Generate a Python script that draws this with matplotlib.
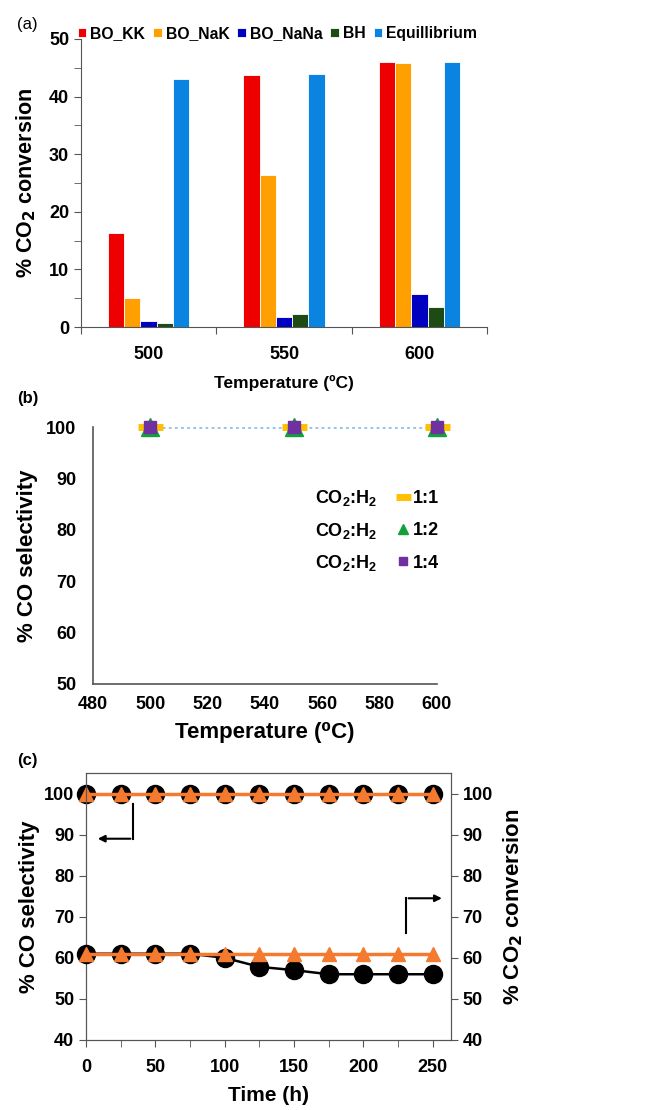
import numpy as np
import matplotlib
matplotlib.use('Agg')
import matplotlib.pyplot as plt
from matplotlib import font_manager
from matplotlib.ticker import MultipleLocator, FixedLocator, NullFormatter

plt.rcParams['font.family'] = ['Liberation Sans', 'DejaVu Sans']
plt.rcParams['font.weight'] = 'bold'

installed = {f.name for f in font_manager.fontManager.ttflist}
if 'Liberation Sans Narrow' in installed:
    NARROW = ['Liberation Sans Narrow', 'Liberation Sans', 'DejaVu Sans']
    TICK_SIZE = 15.5
else:
    NARROW = ['Liberation Sans', 'DejaVu Sans']
    TICK_SIZE = 13

# (a) CO2 conversion per catalyst
temps_a = ['500', '550', '600']
series_a = ['BO_KK', 'BO_NaK', 'BO_NaNa', 'BH', 'Equillibrium']
bo_kk = [16.4, 43.8, 46.0]
bo_nak = [5.0, 26.4, 45.8]
bo_nana = [1.1, 1.8, 5.8]
bh = [0.7, 2.3, 3.4]
equil = [43.1, 44.0, 46.0]
colors_a = ['#EE0000', '#FFA000', '#0000C0', '#1E4A14', '#0A84E0']

# (b) CO selectivity vs temperature for feed ratios
temps_b = [500, 550, 600]
sel_11 = [100, 100, 100]
sel_12 = [100, 100, 100]
sel_14 = [100, 100, 100]
ratios = ['1:1', '1:2', '1:4']

# (c) stability run
time_h = [0, 25, 50, 75, 100, 125, 150, 175, 200, 225, 250]
sel_black = [100, 100, 100, 100, 100, 100, 100, 100, 100, 100, 100]
sel_orange = [100, 100, 100, 100, 100, 100, 100, 100, 100, 100, 100]
conv_black = [61, 61, 61, 61, 60, 57.8, 57, 56, 56, 56, 56]
conv_orange = [61, 61, 61, 61, 61, 61, 61, 61, 61, 61, 61]

fig = plt.figure(figsize=(6.47, 11.1), dpi=100)
spine_c = '#555555'
orange_c = '#F47A30'


def narrow_ticks(ax, size):
    for lab in ax.get_xticklabels(which='both') + ax.get_yticklabels(which='both'):
        lab.set_family(NARROW)
        lab.set_fontsize(size)
        lab.set_fontweight('bold')


# ---------------- (a) ----------------
ax1 = fig.add_axes([0.125, 0.7054, 0.628, 0.2595])
x = np.arange(len(temps_a))
w = 0.12
for i, (vals, name) in enumerate(zip([bo_kk, bo_nak, bo_nana, bh, equil], series_a)):
    ax1.bar(x + (i - 2) * w, vals, width=w, color=colors_a[i], edgecolor='white',
            linewidth=0.6, label=name, zorder=2)
ax1.set_xlim(-0.5, 2.5)
ax1.set_ylim(0, 50)
ax1.xaxis.set_major_locator(FixedLocator([-0.5, 0.5, 1.5, 2.5]))
ax1.xaxis.set_major_formatter(NullFormatter())
ax1.xaxis.set_minor_locator(FixedLocator(x))
ax1.set_xticklabels(temps_a, minor=True)
ax1.tick_params(axis='x', which='minor', length=0, pad=14)
ax1.tick_params(axis='x', which='major', length=5, direction='out', color=spine_c)
ax1.yaxis.set_major_locator(MultipleLocator(10))
ax1.yaxis.set_minor_locator(MultipleLocator(5))
ax1.tick_params(axis='y', which='both', length=5, direction='out', color=spine_c)
for s in ['top', 'right']:
    ax1.spines[s].set_visible(False)
for s in ['left', 'bottom']:
    ax1.spines[s].set_color(spine_c)
narrow_ticks(ax1, TICK_SIZE)
ax1.set_ylabel('% CO$_\\mathbf{2}$ conversion', fontsize=15.5, fontweight='bold', labelpad=8)
ax1.set_xlabel('Temperature (ºC)', fontsize=12.5, fontweight='bold', labelpad=8)
ax1.legend(loc='lower left', bbox_to_anchor=(0.12, 0.963), bbox_transform=fig.transFigure,
           ncol=5, frameon=False, fontsize=11.3, handlelength=0.55, handleheight=0.55,
           handletextpad=0.25, columnspacing=0.5, borderpad=0, borderaxespad=0)
fig.text(0.026, 0.978, '(a)', fontsize=12, fontweight='normal', va='center')

# ---------------- (b) ----------------
ax2 = fig.add_axes([0.1437, 0.3838, 0.5317, 0.2315])
ax2.plot(temps_b, sel_11, linestyle=(0, (1, 1.2)), color='#8EC3EA', linewidth=2, zorder=1)
ax2.plot(temps_b, sel_11, linestyle='none', marker='_', markersize=18, markeredgewidth=5,
         color='#FFC000', clip_on=False, zorder=3, label=ratios[0])
ax2.plot(temps_b, sel_12, linestyle='none', marker='^', markersize=13, color='#12A03A',
         clip_on=False, zorder=4, label=ratios[1])
ax2.plot(temps_b, sel_14, linestyle='none', marker='s', markersize=9, color='#7030A0',
         clip_on=False, zorder=5, label=ratios[2])
ax2.set_xlim(480, 600)
ax2.set_ylim(50, 100)
ax2.xaxis.set_major_locator(MultipleLocator(20))
ax2.yaxis.set_major_locator(MultipleLocator(10))
ax2.tick_params(axis='y', length=0, pad=12)
ax2.tick_params(axis='x', length=0, pad=9)
for s in ['top', 'right']:
    ax2.spines[s].set_visible(False)
for s in ['left', 'bottom']:
    ax2.spines[s].set_color(spine_c)
    ax2.spines[s].set_linewidth(1.2)
narrow_ticks(ax2, TICK_SIZE)
ax2.set_ylabel('% CO selectivity', fontsize=16, fontweight='bold', labelpad=6)
ax2.set_xlabel('Temperature (⁰C)', fontsize=16, fontweight='bold', labelpad=6)
leg2 = ax2.legend(loc='upper left', bbox_to_anchor=(0.885, 0.755), frameon=False,
                  fontsize=13, handlelength=0.6, handletextpad=0.25, labelspacing=0.85,
                  markerscale=0.6, borderpad=0, borderaxespad=0)
fig.canvas.draw()
for t in leg2.get_texts():
    bb = t.get_window_extent()
    yc = (bb.y0 + bb.y1) / 2
    fig.text(0.582, yc / fig.bbox.height, 'CO$\\mathregular{_2}$:H$\\mathregular{_2}$',
             fontsize=13, fontweight='bold', ha='right', va='center')
fig.text(0.026, 0.641, '(b)', fontsize=12, fontweight='bold', va='center')

# ---------------- (c) ----------------
ax3 = fig.add_axes([0.1329, 0.0631, 0.564, 0.2405])
ax3.plot(time_h, sel_black, color='black', marker='o', markersize=13, linewidth=1.8,
         clip_on=False, zorder=3)
ax3.plot(time_h, sel_orange, color=orange_c, marker='^', markersize=10, linewidth=2.5,
         clip_on=False, zorder=4)
ax3.set_xlim(0, 263)
ax3.set_ylim(40, 105)
ax3.xaxis.set_major_locator(FixedLocator([0, 50, 100, 150, 200, 250]))
ax3.xaxis.set_minor_locator(FixedLocator([25, 75, 125, 175, 225]))
ax3.yaxis.set_major_locator(FixedLocator([40, 50, 60, 70, 80, 90, 100]))
ax3.tick_params(axis='both', which='both', direction='out', length=5, color=spine_c)
ax3.tick_params(axis='x', pad=9)
for s in ax3.spines.values():
    s.set_color(spine_c)
narrow_ticks(ax3, TICK_SIZE)
ax3.set_ylabel('% CO selectivity', fontsize=16, fontweight='bold', labelpad=3)
ax3.set_xlabel('Time (h)', fontsize=15, fontweight='bold', labelpad=7)

ax4 = ax3.twinx()
ax4.plot(time_h, conv_black, color='black', marker='o', markersize=13, linewidth=1.8,
         clip_on=False, zorder=3)
ax4.plot(time_h, conv_orange, color=orange_c, marker='^', markersize=10, linewidth=2.5,
         clip_on=False, zorder=4)
ax4.set_ylim(40, 105)
ax4.yaxis.set_major_locator(FixedLocator([40, 50, 60, 70, 80, 90, 100]))
ax4.tick_params(axis='y', direction='out', length=5, color=spine_c)
for s in ax4.spines.values():
    s.set_color(spine_c)
narrow_ticks(ax4, TICK_SIZE)
ax4.set_ylabel('% CO$_\\mathbf{2}$ conversion', fontsize=16, fontweight='bold', labelpad=6)

# direction arrows
ax3.annotate('', xy=(6.5, 89), xytext=(34, 89),
             arrowprops=dict(arrowstyle='-|>', color='black', lw=1.5, mutation_scale=10))
ax3.plot([34, 34], [97.5, 89], color='black', lw=1.5)
ax3.annotate('', xy=(258.5, 74.5), xytext=(230.5, 74.5),
             arrowprops=dict(arrowstyle='-|>', color='black', lw=1.5, mutation_scale=10))
ax3.plot([230.5, 230.5], [66, 74.5], color='black', lw=1.5)
fig.text(0.026, 0.315, '(c)', fontsize=12, fontweight='bold', va='center')

fig.savefig('out.png', dpi=100)
